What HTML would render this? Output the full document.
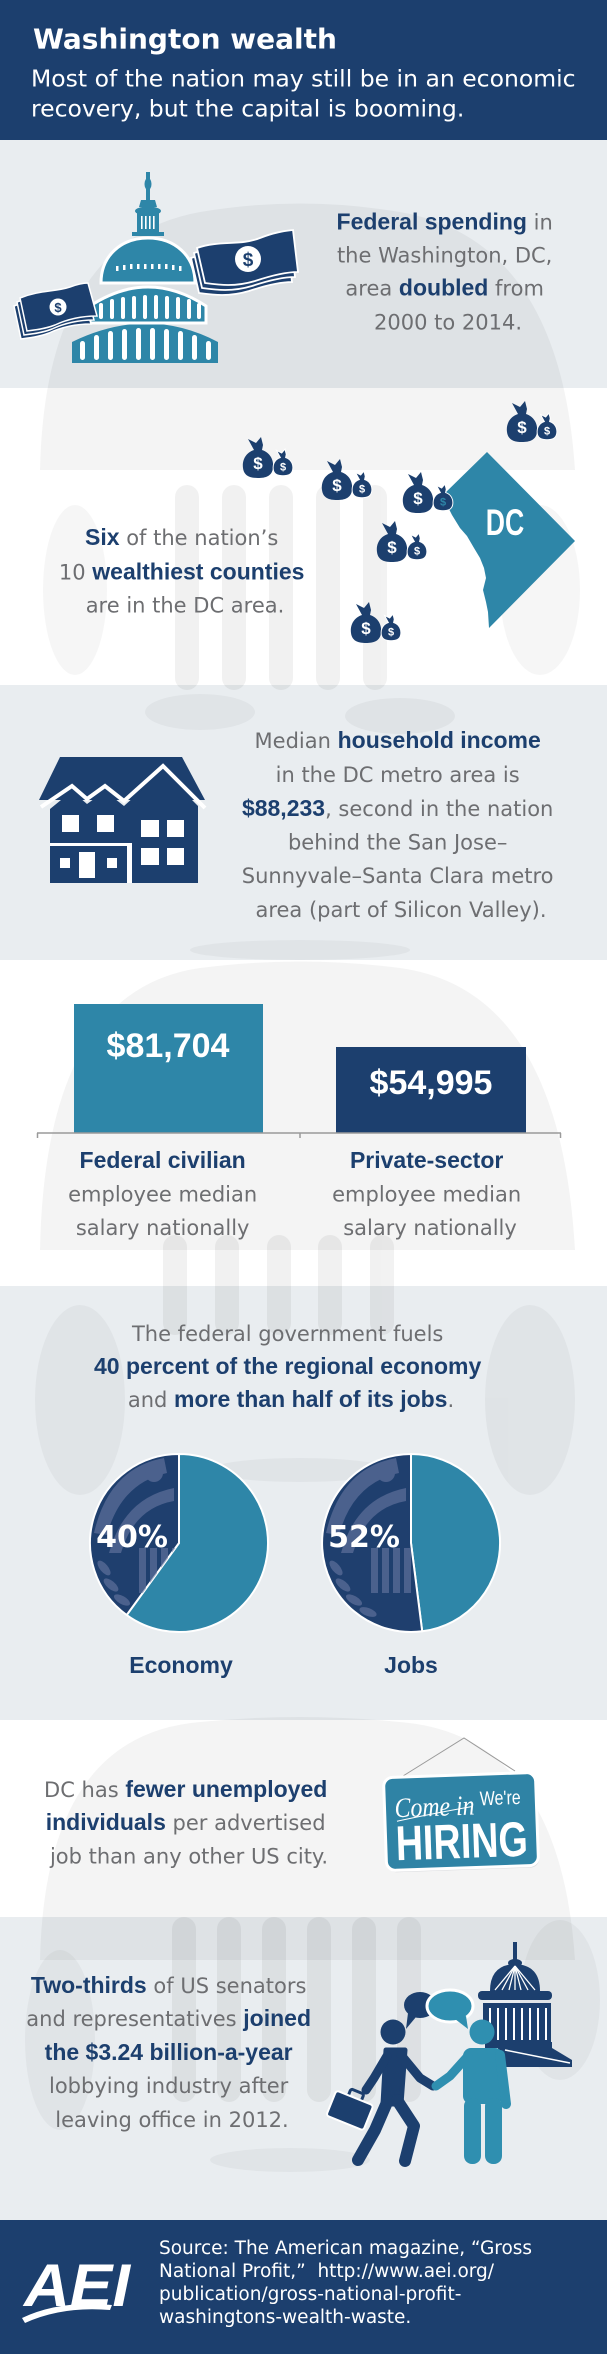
<!DOCTYPE html>
<html><head><meta charset="utf-8"><style>
html,body{margin:0;padding:0;background:#fff;}
svg{display:block;}
</style></head><body>
<svg width="607" height="2354" viewBox="0 0 607 2354" xmlns="http://www.w3.org/2000/svg">
<!-- backgrounds -->
<rect x="0" y="0" width="607" height="140" fill="#1c3f6e"/>
<rect x="0" y="140" width="607" height="248" fill="#e9edf0"/>
<rect x="0" y="388" width="607" height="297" fill="#ffffff"/>
<rect x="0" y="685" width="607" height="275" fill="#e9edf0"/>
<rect x="0" y="960" width="607" height="326" fill="#ffffff"/>
<rect x="0" y="1286" width="607" height="434" fill="#e9edf0"/>
<rect x="0" y="1720" width="607" height="197" fill="#ffffff"/>
<rect x="0" y="1917" width="607" height="303" fill="#e9edf0"/>
<rect x="0" y="2220" width="607" height="134" fill="#1c3f6e"/>

<!-- watermark -->
<clipPath id="wmclip"><rect x="0" y="140" width="607" height="2080"/></clipPath>
<g clip-path="url(#wmclip)" fill="#000">
  <g opacity="0.045">
    <path d="M40,470 Q45,240 200,212 Q300,195 400,212 Q560,240 575,470 Z"/>
    <path d="M40,1250 Q45,990 200,968 Q300,955 400,968 Q560,990 575,1250 Z"/>
    <path d="M40,1960 Q45,1735 200,1722 Q300,1712 400,1722 Q560,1735 575,1960 Z"/>
  </g>
  <g opacity="0.05">
    <rect x="175" y="485" width="24" height="205" rx="12"/>
    <rect x="222" y="485" width="24" height="205" rx="12"/>
    <rect x="269" y="485" width="24" height="205" rx="12"/>
    <rect x="316" y="485" width="24" height="205" rx="12"/>
    <rect x="363" y="485" width="24" height="205" rx="12"/>
    <rect x="163" y="1235" width="24" height="100" rx="12"/>
    <rect x="215" y="1235" width="24" height="100" rx="12"/>
    <rect x="267" y="1235" width="24" height="100" rx="12"/>
    <rect x="318" y="1235" width="24" height="100" rx="12"/>
    <rect x="370" y="1235" width="24" height="100" rx="12"/>
    <rect x="172" y="1917" width="24" height="185" rx="12"/>
    <rect x="217" y="1917" width="24" height="185" rx="12"/>
    <rect x="262" y="1917" width="24" height="185" rx="12"/>
    <rect x="307" y="1917" width="24" height="185" rx="12"/>
    <rect x="352" y="1917" width="24" height="185" rx="12"/>
    <rect x="397" y="1917" width="24" height="185" rx="12"/>
  </g>
  <g opacity="0.035">
    <ellipse cx="75" cy="590" rx="32" ry="85"/>
    <ellipse cx="540" cy="590" rx="40" ry="85"/>
    <ellipse cx="200" cy="712" rx="55" ry="18"/>
    <ellipse cx="400" cy="716" rx="55" ry="18"/>
    <ellipse cx="300" cy="950" rx="110" ry="10"/>
    <ellipse cx="80" cy="1400" rx="45" ry="95"/>
    <ellipse cx="530" cy="1400" rx="45" ry="95"/>
    <ellipse cx="300" cy="1470" rx="90" ry="12"/>
    <ellipse cx="60" cy="2040" rx="35" ry="90"/>
    <ellipse cx="560" cy="2000" rx="40" ry="80"/>
    <ellipse cx="290" cy="2160" rx="80" ry="12"/>
  </g>
</g>

<!-- HEADER TEXT -->
<text x="33" y="48.3" font-family="DejaVu Sans, sans-serif" font-weight="bold" font-size="28" fill="#ffffff">Washington wealth</text>
<text font-family="DejaVu Sans, sans-serif" font-size="23.5" fill="#ffffff">
  <tspan x="31" y="86.7">Most of the nation may still be in an economic</tspan>
  <tspan x="31" y="116.7">recovery, but the capital is booming.</tspan>
</text>

<!-- SECTION 1: capitol + bills -->
<g fill="#2e86a8">
  <rect x="146" y="172" width="4" height="30"/>
  <ellipse cx="148" cy="184" rx="3.5" ry="6"/>
  <path d="M141,200 L155,200 L157,207 L139,207 Z"/>
  <ellipse cx="148" cy="211" rx="13" ry="4.5"/>
  <rect x="137" y="211" width="22" height="22"/>
  <rect x="132" y="232" width="32" height="4"/>
  <path d="M101,283 C101,255 122,238 148,238 C174,238 195,255 195,283 Z"/>
  <path d="M72,363 L72,342 Q148,305 218,342 L218,363 Z"/>
  <path d="M90,323 L90,306 Q148,268 206,306 L206,323 Z" stroke="#ffffff" stroke-width="3"/>
  <path d="M101,283 C101,255 122,238 148,238 C174,238 195,255 195,283 Z" stroke="#ffffff" stroke-width="3"/>
  <rect x="139" y="210" width="18" height="3" fill="#2e86a8"/>
</g>
<g fill="#ffffff">
  <rect x="141" y="216" width="1.6" height="13"/><rect x="145" y="216" width="1.6" height="13"/>
  <rect x="149" y="216" width="1.6" height="13"/><rect x="153" y="216" width="1.6" height="13"/>
  <rect x="116" y="266" width="2.5" height="5"/><rect x="123" y="265" width="2.5" height="5"/>
  <rect x="130" y="264" width="2.5" height="5"/><rect x="137" y="264" width="2.5" height="5"/>
  <rect x="144" y="264" width="2.5" height="5"/><rect x="151" y="264" width="2.5" height="5"/>
  <rect x="158" y="264" width="2.5" height="5"/><rect x="165" y="264" width="2.5" height="5"/>
  <rect x="172" y="265" width="2.5" height="5"/><rect x="179" y="266" width="2.5" height="5"/>
  <rect x="99" y="303" width="4" height="16" rx="2"/><rect x="110" y="299" width="4" height="20" rx="2"/>
  <rect x="121" y="297" width="4" height="22" rx="2"/><rect x="132" y="296" width="4" height="23" rx="2"/>
  <rect x="143" y="295" width="4" height="24" rx="2"/><rect x="154" y="295" width="4" height="24" rx="2"/>
  <rect x="165" y="296" width="4" height="23" rx="2"/><rect x="176" y="297" width="4" height="22" rx="2"/>
  <rect x="187" y="299" width="4" height="20" rx="2"/><rect x="197" y="303" width="4" height="16" rx="2"/>
  <rect x="80" y="341" width="5" height="19" rx="2.5"/><rect x="94" y="335" width="5" height="25" rx="2.5"/>
  <rect x="108" y="331" width="5" height="29" rx="2.5"/><rect x="122" y="329" width="5" height="31" rx="2.5"/>
  <rect x="136" y="328" width="5" height="32" rx="2.5"/><rect x="150" y="328" width="5" height="32" rx="2.5"/>
  <rect x="164" y="329" width="5" height="31" rx="2.5"/><rect x="178" y="331" width="5" height="29" rx="2.5"/>
  <rect x="192" y="335" width="5" height="25" rx="2.5"/><rect x="206" y="341" width="5" height="19" rx="2.5"/>
</g>
<!-- left bill -->
<g fill="#1c3f6e" stroke="#ffffff" stroke-width="1.5">
  <path transform="translate(-6,8)" d="M20,298 C40,290 55,292 70,287 C78,284 84,283 88,283 L97,316 C85,316 70,318 55,325 C45,329 35,330 27,331 Z"/>
  <path transform="translate(-3,4)" d="M20,298 C40,290 55,292 70,287 C78,284 84,283 88,283 L97,316 C85,316 70,318 55,325 C45,329 35,330 27,331 Z"/>
  <path d="M20,298 C40,290 55,292 70,287 C78,284 84,283 88,283 L97,316 C85,316 70,318 55,325 C45,329 35,330 27,331 Z"/>
</g>
<circle cx="58" cy="307" r="8.5" fill="#ffffff"/>
<text x="58" y="312" text-anchor="middle" font-family="Liberation Sans, sans-serif" font-weight="bold" font-size="13" fill="#1c3f6e">$</text>
<!-- right bill -->
<g fill="#1c3f6e" stroke="#ffffff" stroke-width="1.8">
  <path transform="translate(-6,10)" d="M197,248 C220,240 240,246 260,238 C275,232 285,231 293,230 L298,272 C285,272 270,276 255,281 C235,287 220,285 205,283 Z"/>
  <path transform="translate(-3,5)" d="M197,248 C220,240 240,246 260,238 C275,232 285,231 293,230 L298,272 C285,272 270,276 255,281 C235,287 220,285 205,283 Z"/>
  <path d="M197,248 C220,240 240,246 260,238 C275,232 285,231 293,230 L298,272 C285,272 270,276 255,281 C235,287 220,285 205,283 Z"/>
</g>
<circle cx="248" cy="259" r="13" fill="#ffffff"/>
<text x="248" y="266" text-anchor="middle" font-family="Liberation Sans, sans-serif" font-weight="bold" font-size="19" fill="#1c3f6e">$</text>

<text text-anchor="middle" font-family="DejaVu Sans, sans-serif" font-size="21" fill="#6d6e71">
  <tspan x="448" y="229.5"><tspan font-family="Liberation Sans, sans-serif" font-weight="bold" font-size="23" fill="#1c3f6e">Federal spending</tspan> in</tspan>
  <tspan x="448" y="262.5">the Washington, DC,</tspan>
  <tspan x="448" y="295.5">area <tspan font-family="Liberation Sans, sans-serif" font-weight="bold" font-size="23" fill="#1c3f6e">doubled</tspan> from</tspan>
  <tspan x="448" y="329.5">2000 to 2014.</tspan>
</text>

<!-- SECTION 2: DC map and bags -->
<path d="M487,452 L575,541 L489,628 L488,612 L486,602 L483,590 L486,578 L484,568 L480,558 L474,548 L467,536 L460,528 L452,515 L447,505 L442,496 Z" fill="#2e86a8"/>
<text transform="translate(505,535) scale(0.72,1)" text-anchor="middle" font-family="Liberation Sans, sans-serif" font-weight="bold" font-size="37" fill="#ffffff">DC</text>

<g font-family="Liberation Sans, sans-serif" font-weight="bold" text-anchor="middle">
<g transform="translate(258,463)">
  <path fill="#1c3f6e" d="M-4,-13 L-10,-24 L-2,-20 L3,-26 L5,-18 L4,-13 C13,-10 16,-2 15,5 C14,13 8,15 0,15 C-8,15 -14,13 -15,5 C-16,-2 -13,-10 -4,-13 Z"/>
  <path fill="#1c3f6e" stroke="#ffffff" stroke-width="1.5" transform="translate(25,3) scale(0.65)" d="M-4,-13 L-10,-24 L-2,-20 L3,-26 L5,-18 L4,-13 C13,-10 16,-2 15,5 C14,13 8,15 0,15 C-8,15 -14,13 -15,5 C-16,-2 -13,-10 -4,-13 Z"/>
  <text x="0" y="6" font-size="17" fill="#ffffff">$</text>
  <text x="25" y="7.5" font-size="11" fill="#ffffff">$</text>
</g>
<g transform="translate(337,485)">
  <path fill="#1c3f6e" d="M-4,-13 L-10,-24 L-2,-20 L3,-26 L5,-18 L4,-13 C13,-10 16,-2 15,5 C14,13 8,15 0,15 C-8,15 -14,13 -15,5 C-16,-2 -13,-10 -4,-13 Z"/>
  <path fill="#1c3f6e" stroke="#ffffff" stroke-width="1.5" transform="translate(25,3) scale(0.65)" d="M-4,-13 L-10,-24 L-2,-20 L3,-26 L5,-18 L4,-13 C13,-10 16,-2 15,5 C14,13 8,15 0,15 C-8,15 -14,13 -15,5 C-16,-2 -13,-10 -4,-13 Z"/>
  <text x="0" y="6" font-size="17" fill="#ffffff">$</text>
  <text x="25" y="7.5" font-size="11" fill="#ffffff">$</text>
</g>
<g transform="translate(418,498)">
  <path fill="#1c3f6e" d="M-4,-13 L-10,-24 L-2,-20 L3,-26 L5,-18 L4,-13 C13,-10 16,-2 15,5 C14,13 8,15 0,15 C-8,15 -14,13 -15,5 C-16,-2 -13,-10 -4,-13 Z"/>
  <path fill="#1c3f6e" stroke="#ffffff" stroke-width="1.5" transform="translate(25,3) scale(0.65)" d="M-4,-13 L-10,-24 L-2,-20 L3,-26 L5,-18 L4,-13 C13,-10 16,-2 15,5 C14,13 8,15 0,15 C-8,15 -14,13 -15,5 C-16,-2 -13,-10 -4,-13 Z"/>
  <text x="0" y="6" font-size="17" fill="#ffffff">$</text>
  <text x="25" y="7.5" font-size="11" fill="#2e86a8">$</text>
</g>
<g transform="translate(392,547)">
  <path fill="#1c3f6e" d="M-4,-13 L-10,-24 L-2,-20 L3,-26 L5,-18 L4,-13 C13,-10 16,-2 15,5 C14,13 8,15 0,15 C-8,15 -14,13 -15,5 C-16,-2 -13,-10 -4,-13 Z"/>
  <path fill="#1c3f6e" stroke="#ffffff" stroke-width="1.5" transform="translate(25,3) scale(0.65)" d="M-4,-13 L-10,-24 L-2,-20 L3,-26 L5,-18 L4,-13 C13,-10 16,-2 15,5 C14,13 8,15 0,15 C-8,15 -14,13 -15,5 C-16,-2 -13,-10 -4,-13 Z"/>
  <text x="0" y="6" font-size="17" fill="#ffffff">$</text>
  <text x="25" y="7.5" font-size="11" fill="#ffffff">$</text>
</g>
<g transform="translate(366,628)">
  <path fill="#1c3f6e" d="M-4,-13 L-10,-24 L-2,-20 L3,-26 L5,-18 L4,-13 C13,-10 16,-2 15,5 C14,13 8,15 0,15 C-8,15 -14,13 -15,5 C-16,-2 -13,-10 -4,-13 Z"/>
  <path fill="#1c3f6e" stroke="#ffffff" stroke-width="1.5" transform="translate(25,3) scale(0.65)" d="M-4,-13 L-10,-24 L-2,-20 L3,-26 L5,-18 L4,-13 C13,-10 16,-2 15,5 C14,13 8,15 0,15 C-8,15 -14,13 -15,5 C-16,-2 -13,-10 -4,-13 Z"/>
  <text x="0" y="6" font-size="17" fill="#ffffff">$</text>
  <text x="25" y="7.5" font-size="11" fill="#ffffff">$</text>
</g>
<g transform="translate(522,427)">
  <path fill="#1c3f6e" d="M-4,-13 L-10,-24 L-2,-20 L3,-26 L5,-18 L4,-13 C13,-10 16,-2 15,5 C14,13 8,15 0,15 C-8,15 -14,13 -15,5 C-16,-2 -13,-10 -4,-13 Z"/>
  <path fill="#1c3f6e" stroke="#ffffff" stroke-width="1.5" transform="translate(25,3) scale(0.65)" d="M-4,-13 L-10,-24 L-2,-20 L3,-26 L5,-18 L4,-13 C13,-10 16,-2 15,5 C14,13 8,15 0,15 C-8,15 -14,13 -15,5 C-16,-2 -13,-10 -4,-13 Z"/>
  <text x="0" y="6" font-size="17" fill="#ffffff">$</text>
  <text x="25" y="7.5" font-size="11" fill="#ffffff">$</text>
</g>
</g>

<text text-anchor="middle" font-family="DejaVu Sans, sans-serif" font-size="21" fill="#6d6e71">
  <tspan x="185" y="545"><tspan font-family="Liberation Sans, sans-serif" font-weight="bold" font-size="23" fill="#1c3f6e">Six</tspan> of the nation’s</tspan>
  <tspan x="185" y="579.5">10 <tspan font-family="Liberation Sans, sans-serif" font-weight="bold" font-size="23" fill="#1c3f6e">wealthiest counties</tspan></tspan>
  <tspan x="185" y="612.5">are in the DC area.</tspan>
</text>

<!-- SECTION 3: house -->
<g fill="#1c3f6e">
  <polygon points="60,757 182,757 205,800 39,800"/>
  <polygon points="50,809 72,791 87,804 105,791 124,806 163,771 198,806 198,883 50,883"/>
</g>
<polyline points="41,807 72,786 87,799 105,786 124,801 163,766 205,808" fill="none" stroke="#ffffff" stroke-width="4" stroke-linejoin="miter"/>
<g fill="#ffffff">
  <rect x="62" y="815" width="17" height="17"/><rect x="97" y="815" width="17" height="17"/>
  <rect x="141" y="820" width="18" height="17"/><rect x="167" y="820" width="17" height="17"/>
  <rect x="141" y="848" width="18" height="17"/><rect x="167" y="848" width="17" height="17"/>
  <rect x="50" y="843" width="80" height="3"/><rect x="127" y="843" width="5" height="40"/>
  <rect x="60" y="858" width="10" height="10"/><rect x="107" y="858" width="10" height="10"/>
  <rect x="79" y="852" width="16" height="26"/>
</g>
<text text-anchor="middle" font-family="DejaVu Sans, sans-serif" font-size="21" fill="#6d6e71">
  <tspan x="401" y="748">Median <tspan font-family="Liberation Sans, sans-serif" font-weight="bold" font-size="23" fill="#1c3f6e">household income</tspan></tspan>
  <tspan x="401" y="782">in the DC metro area is</tspan>
  <tspan x="401" y="816"><tspan font-family="Liberation Sans, sans-serif" font-weight="bold" font-size="23" fill="#1c3f6e">$88,233</tspan>, second in the nation</tspan>
  <tspan x="401" y="849.5">behind the San Jose–</tspan>
  <tspan x="401" y="883">Sunnyvale–Santa Clara metro</tspan>
  <tspan x="401" y="917">area (part of Silicon Valley).</tspan>
</text>

<!-- SECTION 4: bars -->
<rect x="74" y="1004" width="189" height="129" fill="#2e86a8"/>
<rect x="336" y="1047" width="190" height="86" fill="#1c3f6e"/>
<g stroke="#9a9a9a" stroke-width="1.5" fill="none">
  <line x1="37" y1="1133" x2="561" y2="1133"/>
  <line x1="37.5" y1="1133" x2="37.5" y2="1138"/>
  <line x1="300" y1="1133" x2="300" y2="1138"/>
  <line x1="560.5" y1="1133" x2="560.5" y2="1138"/>
</g>
<text x="168" y="1057" text-anchor="middle" font-family="Liberation Sans, sans-serif" font-weight="bold" font-size="34" fill="#ffffff">$81,704</text>
<text x="431" y="1094" text-anchor="middle" font-family="Liberation Sans, sans-serif" font-weight="bold" font-size="34" fill="#ffffff">$54,995</text>
<text text-anchor="middle" font-family="DejaVu Sans, sans-serif" font-size="21" fill="#6d6e71">
  <tspan x="166" y="1168" font-family="Liberation Sans, sans-serif" font-weight="bold" font-size="23" fill="#1c3f6e">Federal civilian</tspan>
  <tspan x="166" y="1201.5">employee median</tspan>
  <tspan x="166" y="1235">salary nationally</tspan>
  <tspan x="430" y="1168" font-family="Liberation Sans, sans-serif" font-weight="bold" font-size="23" fill="#1c3f6e">Private-sector</tspan>
  <tspan x="430" y="1201.5">employee median</tspan>
  <tspan x="430" y="1235">salary nationally</tspan>
</text>

<!-- SECTION 5: pies -->
<text text-anchor="middle" font-family="DejaVu Sans, sans-serif" font-size="21" fill="#6d6e71">
  <tspan x="291" y="1341">The federal government fuels</tspan>
  <tspan x="291" y="1374" font-family="Liberation Sans, sans-serif" font-weight="bold" font-size="23" fill="#1c3f6e">40 percent of the regional economy</tspan>
  <tspan x="291" y="1407">and <tspan font-family="Liberation Sans, sans-serif" font-weight="bold" font-size="23" fill="#1c3f6e">more than half of its jobs</tspan>.</tspan>
</text>
<clipPath id="navL"><path d="M179,1543 L126.7,1615 A89,89 0 0 1 179,1454 Z"/></clipPath>
<clipPath id="navR"><path d="M411,1543 L422.2,1631.3 A89,89 0 1 1 411,1454 Z"/></clipPath>
<path d="M179,1543 L179,1454 A89,89 0 1 1 126.7,1615 Z" fill="#2e86a8" stroke="#ffffff" stroke-width="2"/>
<path d="M179,1543 L126.7,1615 A89,89 0 0 1 179,1454 Z" fill="#1f3f6e" stroke="#ffffff" stroke-width="2"/>
<path d="M411,1543 L411,1454 A89,89 0 0 1 422.2,1631.3 Z" fill="#2e86a8" stroke="#ffffff" stroke-width="2"/>
<path d="M411,1543 L422.2,1631.3 A89,89 0 1 1 411,1454 Z" fill="#1f3f6e" stroke="#ffffff" stroke-width="2"/>
<g clip-path="url(#navL)" fill="#6a78a2" opacity="0.6">
  <path d="M94,1533 Q109,1468 164,1458 L167,1473 Q121,1483 107,1535 Z"/>
  <circle cx="154" cy="1473" r="9"/>
  <path d="M109,1553 Q124,1498 174,1488 L174,1501 Q134,1508 121,1553 Z"/>
  <rect x="139" y="1548" width="7" height="45"/><rect x="150" y="1548" width="7" height="45"/>
  <rect x="161" y="1548" width="7" height="45"/><rect x="172" y="1548" width="7" height="45"/>
  <ellipse cx="104" cy="1568" rx="9" ry="4" transform="rotate(50 104 1568)"/>
  <ellipse cx="111" cy="1585" rx="9" ry="4" transform="rotate(40 111 1585)"/>
  <ellipse cx="122" cy="1600" rx="9" ry="4" transform="rotate(30 122 1600)"/>
</g>
<g clip-path="url(#navR)" fill="#6a78a2" opacity="0.6">
  <path d="M326,1533 Q341,1468 396,1458 L399,1473 Q353,1483 339,1535 Z"/>
  <circle cx="386" cy="1473" r="9"/>
  <path d="M341,1553 Q356,1498 406,1488 L406,1501 Q366,1508 353,1553 Z"/>
  <rect x="371" y="1548" width="7" height="45"/><rect x="382" y="1548" width="7" height="45"/>
  <rect x="393" y="1548" width="7" height="45"/><rect x="404" y="1548" width="7" height="45"/>
  <ellipse cx="336" cy="1568" rx="9" ry="4" transform="rotate(50 336 1568)"/>
  <ellipse cx="343" cy="1585" rx="9" ry="4" transform="rotate(40 343 1585)"/>
  <ellipse cx="354" cy="1600" rx="9" ry="4" transform="rotate(30 354 1600)"/>
  <ellipse cx="368" cy="1612" rx="9" ry="4" transform="rotate(20 368 1612)"/>
</g>
<text x="132" y="1547" text-anchor="middle" font-family="DejaVu Sans, sans-serif" font-weight="bold" font-size="30" fill="#ffffff">40%</text>
<text x="364" y="1547" text-anchor="middle" font-family="DejaVu Sans, sans-serif" font-weight="bold" font-size="30" fill="#ffffff">52%</text>
<text x="181" y="1673" text-anchor="middle" font-family="Liberation Sans, sans-serif" font-weight="bold" font-size="23" fill="#1c3f6e">Economy</text>
<text x="411" y="1673" text-anchor="middle" font-family="Liberation Sans, sans-serif" font-weight="bold" font-size="23" fill="#1c3f6e">Jobs</text>

<!-- SECTION 6: hiring -->
<text text-anchor="middle" font-family="DejaVu Sans, sans-serif" font-size="21" fill="#6d6e71">
  <tspan x="189" y="1797">DC has <tspan font-family="Liberation Sans, sans-serif" font-weight="bold" font-size="23" fill="#1c3f6e">fewer unemployed</tspan></tspan>
  <tspan x="189" y="1830"><tspan font-family="Liberation Sans, sans-serif" font-weight="bold" font-size="23" fill="#1c3f6e">individuals</tspan> per advertised</tspan>
  <tspan x="189" y="1863.5">job than any other US city.</tspan>
</text>
<polyline points="403,1776 464,1738 515,1771" fill="none" stroke="#9a9a9a" stroke-width="1"/>
<g transform="rotate(-2 461 1821)">
  <rect x="386" y="1777" width="152" height="93" rx="9" fill="#c9ccd0" opacity="0.6"/>
  <rect x="385" y="1775" width="152" height="93" rx="9" fill="#2f83a5" stroke="#ffffff" stroke-width="3"/>
  <text x="395" y="1815" font-family="Liberation Serif, serif" font-style="italic" font-size="28" fill="#ffffff" textLength="80" lengthAdjust="spacingAndGlyphs">Come in</text>
  <path d="M397,1819 Q430,1813 472,1807" fill="none" stroke="#ffffff" stroke-width="1"/>
  <text transform="translate(501,1806) scale(0.8,1)" text-anchor="middle" font-family="Liberation Sans, sans-serif" font-size="20" fill="#ffffff">We're</text>
  <text transform="translate(461,1858) scale(0.77,1)" text-anchor="middle" font-family="Liberation Sans, sans-serif" font-weight="bold" font-size="49" fill="#ffffff">HIRING</text>
</g>

<!-- SECTION 7: lobbying -->
<text text-anchor="middle" font-family="DejaVu Sans, sans-serif" font-size="21" fill="#6d6e71">
  <tspan x="172" y="1993"><tspan font-family="Liberation Sans, sans-serif" font-weight="bold" font-size="23" fill="#1c3f6e">Two-thirds</tspan> of US senators</tspan>
  <tspan x="172" y="2026">and representatives <tspan font-family="Liberation Sans, sans-serif" font-weight="bold" font-size="23" fill="#1c3f6e">joined</tspan></tspan>
  <tspan x="172" y="2060" font-family="Liberation Sans, sans-serif" font-weight="bold" font-size="23" fill="#1c3f6e">the $3.24 billion-a-year</tspan>
  <tspan x="172" y="2093">lobbying industry after</tspan>
  <tspan x="172" y="2127">leaving office in 2012.</tspan>
</text>
<!-- small capitol -->
<g fill="#1c3f6e">
  <rect x="513" y="1942" width="4" height="18"/>
  <ellipse cx="515" cy="1963" rx="7" ry="4"/>
  <path d="M490,1991 Q490,1965 515,1964 Q540,1965 540,1991 Z"/>
  <rect x="478" y="1991" width="74" height="9" rx="4"/>
  <rect x="483" y="2003" width="68" height="40"/>
  <rect x="485" y="2042" width="67" height="6"/>
  <polygon points="498,2048 552,2048 572,2060 572,2067 495,2067"/>
</g>
<g stroke="#ffffff" stroke-width="1.3" fill="none">
  <line x1="515" y1="1966" x2="495" y2="1990"/><line x1="515" y1="1966" x2="502" y2="1990"/>
  <line x1="515" y1="1966" x2="509" y2="1990"/><line x1="515" y1="1966" x2="515" y2="1990"/>
  <line x1="515" y1="1966" x2="521" y2="1990"/><line x1="515" y1="1966" x2="528" y2="1990"/>
  <line x1="515" y1="1966" x2="535" y2="1990"/>
  <line x1="490" y1="2008" x2="490" y2="2040" stroke-width="2"/><line x1="498" y1="2008" x2="498" y2="2040" stroke-width="2"/>
  <line x1="506" y1="2008" x2="506" y2="2040" stroke-width="2"/><line x1="514" y1="2008" x2="514" y2="2040" stroke-width="2"/>
  <line x1="522" y1="2008" x2="522" y2="2040" stroke-width="2"/><line x1="530" y1="2008" x2="530" y2="2040" stroke-width="2"/>
  <line x1="538" y1="2008" x2="538" y2="2040" stroke-width="2"/><line x1="546" y1="2008" x2="546" y2="2040" stroke-width="2"/>
  <line x1="505" y1="2050" x2="570" y2="2063" stroke-width="1.5"/>
</g>
<!-- navy person -->
<g fill="#1c3f6e" stroke="#1c3f6e" stroke-linecap="round" stroke-linejoin="round">
  <circle cx="393" cy="2032" r="12.5" stroke="none"/>
  <path d="M386,2050 L405,2050 L401,2104 L383,2104 Z" stroke-width="5"/>
  <polyline points="401,2055 420,2078 433,2086" fill="none" stroke-width="9"/>
  <polyline points="387,2056 374,2078 366,2090" fill="none" stroke-width="9"/>
  <polyline points="388,2100 375,2130 358,2160" fill="none" stroke-width="12"/>
  <polyline points="397,2100 414,2126 405,2161" fill="none" stroke-width="12"/>
</g>
<g transform="rotate(22 350 2110)">
  <rect x="343" y="2090" width="14" height="8" rx="2" fill="none" stroke="#1c3f6e" stroke-width="3"/>
  <rect x="330" y="2097" width="40" height="27" rx="3" fill="#1c3f6e" stroke="#ffffff" stroke-width="2"/>
</g>
<!-- teal person -->
<g fill="#2f8fb0" stroke="#2f8fb0" stroke-linecap="round" stroke-linejoin="round">
  <circle cx="482" cy="2032" r="12.5" stroke="none"/>
  <rect x="463" y="2048" width="40" height="56" rx="8" stroke="none"/>
  <line x1="500" y1="2055" x2="506" y2="2104" stroke-width="10"/>
  <polyline points="468,2056 450,2076 436,2086" fill="none" stroke-width="9"/>
  <rect x="464" y="2098" width="17" height="66" rx="8" stroke="none"/>
  <rect x="485" y="2098" width="17" height="66" rx="8" stroke="none"/>
</g>
<!-- bubbles -->
<ellipse cx="420" cy="2005" rx="16" ry="13" fill="#1c3f6e"/>
<polygon points="408,2013 416,2017 406,2029" fill="#1c3f6e"/>
<ellipse cx="450" cy="2006" rx="23" ry="16" fill="#2f8fb0" stroke="#ffffff" stroke-width="3"/>
<polygon points="455,2019 466,2016 468,2029" fill="#2f8fb0"/>

<!-- FOOTER -->
<text x="24" y="2306" font-family="Liberation Sans, sans-serif" font-weight="bold" font-style="italic" font-size="60" fill="#ffffff" textLength="106" lengthAdjust="spacingAndGlyphs">AEI</text>
<path d="M22,2318 Q60,2300 112,2305 L110,2310 Q62,2306 25,2323 Z" fill="#ffffff"/>
<text font-family="DejaVu Sans, sans-serif" font-size="18.5" fill="#ffffff">
  <tspan x="159" y="2254">Source: The American magazine, “Gross</tspan>
  <tspan x="159" y="2277">National Profit,”&#160; http://www.aei.org/</tspan>
  <tspan x="159" y="2300">publication/gross-national-profit-</tspan>
  <tspan x="159" y="2323">washingtons-wealth-waste.</tspan>
</text>
</svg>
</body></html>
